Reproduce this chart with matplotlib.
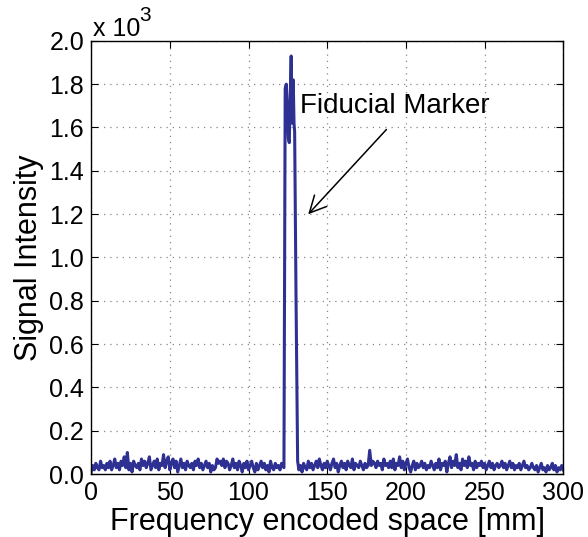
import matplotlib
matplotlib.use("Agg")
import matplotlib.pyplot as plt
import numpy as np

plt.rcParams['font.family'] = ['Liberation Sans', 'DejaVu Sans']

# signal values in units of 10^3, baseline sampled every 1 mm
pre_signal = [
    0.01, 0.04, 0.02, 0.05, 0.03, 0.02, 0.06, 0.03, 0.04, 0.02,
    0.05, 0.03, 0.06, 0.02, 0.04, 0.07, 0.03, 0.05, 0.02, 0.06,
    0.04, 0.08, 0.03, 0.10, 0.02, 0.05, 0.01, 0.06, 0.04, 0.03,
    0.05, 0.02, 0.07, 0.04, 0.06, 0.03, 0.05, 0.08, 0.02, 0.04,
    0.06, 0.03, 0.07, 0.02, 0.05, 0.04, 0.09, 0.03, 0.06, 0.08,
    0.02, 0.05, 0.07, 0.03, 0.06, 0.01, 0.04, 0.07, 0.03, 0.05,
    0.02, 0.06, 0.04, 0.03, 0.05, 0.02, 0.06, 0.04, 0.07, 0.03,
    0.05, 0.02, 0.04, 0.06, 0.03, 0.05, 0.01, 0.04, 0.02, 0.03,
    0.07, 0.05, 0.06, 0.04, 0.07, 0.03, 0.06, 0.05, 0.02, 0.04,
    0.07, 0.03, 0.05, 0.02, 0.06, 0.04, 0.01, 0.05, 0.03, 0.06,
    0.02, 0.04, 0.06, 0.03, 0.01, 0.05, 0.02, 0.04, 0.06, 0.03,
    0.05, 0.02, 0.04, 0.01, 0.06, 0.03, 0.02, 0.05, 0.03, 0.04,
    0.02, 0.05,
]

# fiducial marker peak
peak_x = [122.5, 123.3, 124.0, 124.6, 125.3, 125.9, 126.5, 127.1, 127.6,
          128.0, 128.4, 128.9, 129.3, 130.2, 131.2, 132.0]
peak_y = [0.03, 1.78, 1.80, 1.70, 1.55, 1.53, 1.75, 1.93, 1.62,
          1.70, 1.82, 1.62, 1.58, 0.80, 0.06, 0.02]

post_signal = [
    0.04, 0.01, 0.05, 0.03, 0.02, 0.06, 0.03,
    0.05, 0.02, 0.04, 0.06, 0.03, 0.07, 0.04, 0.02, 0.05, 0.03,
    0.06, 0.04, 0.02, 0.05, 0.07, 0.03, 0.05, 0.01, 0.04, 0.06,
    0.03, 0.05, 0.02, 0.06, 0.04, 0.03, 0.07, 0.02, 0.05, 0.04,
    0.03, 0.06, 0.04, 0.02, 0.05, 0.03, 0.04, 0.11, 0.04, 0.06,
    0.05, 0.03, 0.06, 0.04, 0.05, 0.02, 0.07, 0.04, 0.05, 0.03,
    0.06, 0.03, 0.07, 0.02, 0.05, 0.04, 0.08, 0.03, 0.06, 0.02,
    0.05, 0.07, 0.03, 0.01, 0.04, 0.06, 0.02, 0.05, 0.03, 0.04,
    0.06, 0.03, 0.05, 0.02, 0.04, 0.03, 0.06, 0.04, 0.02, 0.05,
    0.03, 0.07, 0.02, 0.05, 0.04, 0.06, 0.01, 0.05, 0.08, 0.03,
    0.06, 0.04, 0.09, 0.03, 0.05, 0.02, 0.07, 0.04, 0.06, 0.03,
    0.08, 0.04, 0.05, 0.02, 0.06, 0.03, 0.05, 0.04, 0.06, 0.03,
    0.05, 0.02, 0.04, 0.06, 0.03, 0.05, 0.02, 0.04, 0.05, 0.03,
    0.04, 0.06, 0.03, 0.05, 0.02, 0.04, 0.06, 0.03, 0.05, 0.02,
    0.04, 0.03, 0.05, 0.02, 0.04, 0.06, 0.03, 0.04, 0.02, 0.03,
    0.05, 0.03, 0.02, 0.04, 0.01, 0.03, 0.05, 0.02, 0.03, 0.01,
    0.04, 0.02, 0.03, 0.05, 0.02, 0.04, 0.01, 0.03, 0.02, 0.04,
    0.02,
]

x_pre = np.arange(len(pre_signal))
x_post = 301 - len(post_signal) + np.arange(len(post_signal))
x = np.concatenate([x_pre, peak_x, x_post])
y = np.concatenate([pre_signal, peak_y, post_signal])

fig = plt.figure(figsize=(5.88, 5.37), dpi=100)
ax = fig.add_axes([0.155, 0.117, 0.803, 0.807])
ax.plot(x, y, color='#2e3192', lw=2.2)

ax.set_xlim(0, 300)
ax.set_ylim(0, 2.0)
ax.set_xticks(np.arange(0, 301, 50))
ax.set_yticks(np.arange(0, 2.01, 0.2))
ax.set_yticklabels(['%.1f' % v for v in np.arange(0, 2.01, 0.2)])
ax.tick_params(direction='in', top=True, right=True, length=5, labelsize=18,
               pad=5)
ax.grid(True, linestyle=(0, (1, 4)), color='#888888', lw=0.9)
for s in ax.spines.values():
    s.set_linewidth(1)

ax.set_xlabel('Frequency encoded space [mm]', fontsize=22, labelpad=1)
ax.set_ylabel('Signal Intensity', fontsize=22, labelpad=4)

# exponent label above the y axis
fig.text(93 / 588, 1 - 36 / 537, 'x 10', fontsize=18, ha='left', va='baseline')
fig.text(139 / 588, 1 - 21 / 537, '3', fontsize=15, ha='left', va='baseline')

ax.annotate('', xy=(136.7, 1.19), xytext=(188.8, 1.60),
            arrowprops=dict(arrowstyle='->', color='black', lw=1.1,
                            mutation_scale=30))
ax.text(133.0, 1.70, 'Fiducial Marker', fontsize=20, ha='left', va='center')

fig.savefig('out.png', dpi=100)
